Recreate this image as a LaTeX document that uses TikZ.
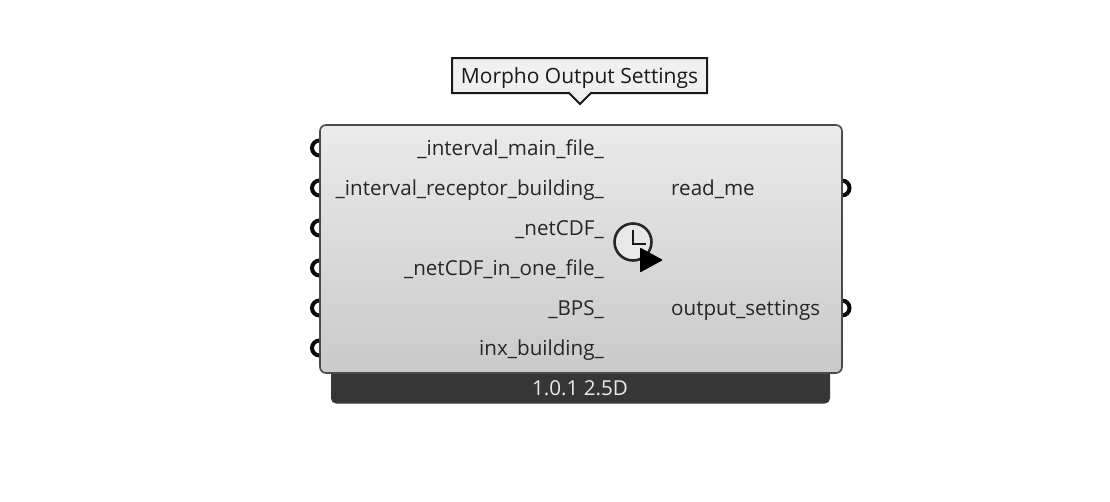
\documentclass[tikz,border=0pt]{standalone}
\usepackage{fontspec}
\setmainfont{Open Sans}
\usetikzlibrary{positioning}
\definecolor{gripblack}{HTML}{0A0A0A}
\definecolor{bodyedge}{HTML}{4A4A4A}
\definecolor{barfill}{HTML}{363636}
\tikzset{
  portlabel/.style={font=\fontsize{20.6}{22}\selectfont, text=black!85, inner sep=0pt, anchor=base east},
  outlabel/.style={font=\fontsize{20.6}{22}\selectfont, text=black!85, inner sep=0pt, anchor=base west},
  grip/.style={line width=4, gripblack}
}
\begin{document}
\begin{tikzpicture}[x=1pt,y=-1pt]
  \useasboundingbox (0,0) rectangle (1110,501);
  \fill[white] (0,0) rectangle (1110,501);

  % input grips
  \foreach \y in {148,188,228,268,308,348} {
    \draw[grip] (319.5,\y) circle (7.5);
  }
  % output grips
  \foreach \y in {188,308} {
    \draw[grip] (842,\y) circle (7.5);
  }

  % version bar
  \fill[barfill, rounded corners=5] (331,365) rectangle (830,403.5);
  \node[font=\fontsize{20.6}{22}\selectfont, text=white!92!black, inner sep=0pt, anchor=base] (version) at (580,395.5) {1.0.1 2.5D};

  % body
  \shade[top color=black!8, bottom color=black!21, draw=bodyedge, line width=1.6, rounded corners=6]
  (320,125) rectangle (842,373);

  % inputs
  \node[portlabel] (mainfile) at (604,155.7) {\_interval\_main\_file\_};
  \node[portlabel] (receptor) at (604,195.7) {\_interval\_receptor\_building\_};
  \node[portlabel] (netcdf) at (604,235.7) {\_netCDF\_};
  \node[portlabel] (onefile) at (604,275.7) {\_netCDF\_in\_one\_file\_};
  \node[portlabel] (bps) at (604,315.7) {\_BPS\_};
  \node[portlabel] (inx) at (604,355.7) {inx\_building\_};

  % outputs
  \node[outlabel] (readme) at (671,195.7) {read\_me};
  \node[outlabel] (settings) at (671,315.7) {output\_settings};

  % clock icon
  \draw[line width=2.6, black!85, fill=black!9] (633,242) circle (18.5);
  \draw[line width=2.8, black!90] (633,230) -- (633,244) -- (646,244);
  \fill[black, rounded corners=1] (640,247.5) -- (663,260) -- (640,272.5) -- cycle;

  % title bubble
  \draw[line width=2, black!90, fill=black!6]
  (452,58) -- (707,58) -- (707,93) -- (591,93) -- (580,104) -- (569,93) -- (452,93) -- cycle;
  \node[font=\fontsize{21}{23}\selectfont, text=black!90, inner sep=0pt, anchor=base] (title) at (579.5,83) {Morpho Output Settings};
\end{tikzpicture}
\end{document}
